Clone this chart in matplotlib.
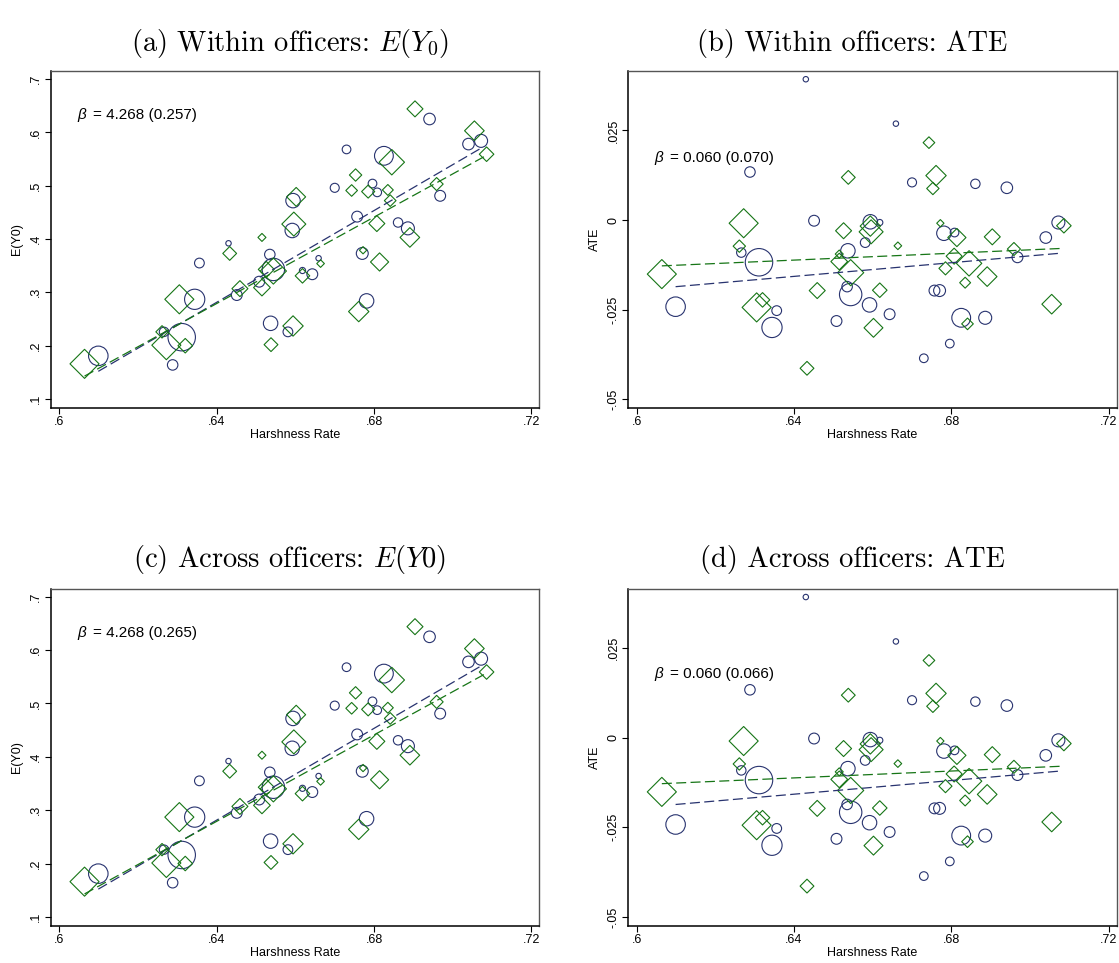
import numpy as np
import matplotlib.pyplot as plt

plt.rcParams['font.family'] = ['Liberation Sans', 'DejaVu Sans']
plt.rcParams['mathtext.fontset'] = 'cm'

NAVY = '#28336f'
GREEN = '#167516'

# officers drawn as circles: harshness rate, E(Y0), ATE, weight
circ_x = [0.6941, 0.7040, 0.7072, 0.6730, 0.6825, 0.6700, 0.6796, 0.6808,
          0.6968, 0.6594, 0.6757, 0.6592, 0.6861, 0.6886, 0.6430, 0.6356,
          0.6535, 0.6770, 0.6659, 0.6544, 0.6618, 0.6643, 0.6508, 0.6451,
          0.6344, 0.6781, 0.6537, 0.6581, 0.6266, 0.6311, 0.6099, 0.6288]
circ_e0 = [0.625, 0.578, 0.584, 0.568, 0.556, 0.496, 0.504, 0.4875,
           0.481, 0.472, 0.442, 0.416, 0.431, 0.420, 0.392, 0.355,
           0.371, 0.373, 0.364, 0.343, 0.341, 0.334, 0.320, 0.295,
           0.287, 0.284, 0.242, 0.226, 0.226, 0.216, 0.181, 0.164]
circ_ate = [0.0090, -0.0049, -0.0007, -0.0386, -0.0273, 0.0105, -0.0345, -0.0035,
            -0.0104, -0.0005, -0.0197, -0.0237, 0.0101, -0.0273, 0.0393, -0.0253,
            -0.0186, -0.0197, 0.0269, -0.0208, -0.0007, -0.0263, -0.0282, -0.0002,
            -0.0300, -0.0037, -0.0086, -0.0063, -0.0091, -0.0118, -0.0242, 0.0134]
circ_w = [16, 16, 18, 12, 26, 12.5, 12, 12,
          15, 20, 15, 20, 13, 18, 7.5, 13.5,
          14.5, 16.5, 7.5, 31, 8.5, 15, 15, 15,
          28, 20, 20, 13.5, 13, 38, 27, 14.5]

# officers drawn as diamonds
diam_x = [0.6904, 0.7055, 0.7086, 0.6845, 0.6753, 0.6743, 0.6785, 0.6835,
          0.6959, 0.6602, 0.6841, 0.6596, 0.6807, 0.6891, 0.6515, 0.6433,
          0.6772, 0.6664, 0.6814, 0.6526, 0.6544, 0.6618, 0.6459, 0.6515,
          0.6305, 0.6761, 0.6594, 0.6538, 0.6261, 0.6272, 0.6320, 0.6064]
diam_e0 = [0.644, 0.603, 0.559, 0.544, 0.520, 0.491, 0.489, 0.492,
           0.503, 0.479, 0.472, 0.428, 0.429, 0.403, 0.403, 0.373,
           0.379, 0.354, 0.357, 0.343, 0.340, 0.331, 0.307, 0.309,
           0.287, 0.264, 0.237, 0.202, 0.226, 0.201, 0.200, 0.166]
diam_ate = [-0.0047, -0.0235, -0.0016, -0.0121, 0.0088, 0.0216, -0.0135, -0.0175,
            -0.0081, -0.0301, -0.0290, -0.0033, -0.0101, -0.0158, -0.0095, -0.0414,
            -0.0009, -0.0072, -0.0049, -0.0030, -0.0147, -0.0196, -0.0197, -0.0116,
            -0.0244, 0.0124, -0.0017, 0.0119, -0.0073, -0.0009, -0.0223, -0.0151]
diam_w = [22, 27, 20, 35, 17, 16, 18, 15,
          18, 26, 16, 33, 22, 27, 11, 19,
          10, 10.5, 25, 22, 36, 20, 22, 23,
          40, 28, 28, 19, 17, 40, 20, 40]

# linear fits (intercept, slope) per marker group
fit_e0_circ = (-2.4706, 4.30)
fit_e0_diam = (-2.3129, 4.05)
fit_ate_circ = (-0.07686, 0.0955)
fit_ate_diam = (-0.04185, 0.0479)

titles = ['(a) Within officers: $E(Y_0)$',
          '(b) Within officers: ATE',
          '(c) Across officers: $E(Y0)$',
          '(d) Across officers: ATE']
betas = ['= 4.268 (0.257)', '= 0.060 (0.070)', '= 4.268 (0.265)', '= 0.060 (0.066)']

xticks = [0.6, 0.64, 0.68, 0.72]
xticklabels = ['.6', '.64', '.68', '.72']
e0_ticks = [0.1, 0.2, 0.3, 0.4, 0.5, 0.6, 0.7]
e0_ticklabels = ['.1', '.2', '.3', '.4', '.5', '.6', '.7']
ate_ticks = [-0.05, -0.025, 0, 0.025]
ate_ticklabels = ['-.05', '-.025', '0', '.025']

W, H = 1119, 963
fig = plt.figure(figsize=(W / 100, H / 100), dpi=100)


def fit_line(ax, xs, coef, color):
    xs = np.array([min(xs), max(xs)])
    ax.plot(xs, coef[0] + coef[1] * xs, color=color, lw=0.9,
            dashes=(8, 3.5), zorder=3)


def panel(rect, y_c, y_d, fit_c, fit_d, ylim, yt, ytl, ylabel, beta, beta_y):
    ax = fig.add_axes(rect)
    cw = np.array(circ_w)
    dw = np.array(diam_w)
    ax.scatter(circ_x, y_c, s=(0.52 * cw) ** 2, marker='o',
               facecolors='none', edgecolors=NAVY, linewidths=0.8, zorder=2)
    ax.scatter(diam_x, y_d, s=(0.37 * dw) ** 2, marker='D',
               facecolors='none', edgecolors=GREEN, linewidths=0.8, zorder=2)
    fit_line(ax, circ_x, fit_c, NAVY)
    fit_line(ax, diam_x, fit_d, GREEN)

    ax.set_xlim(0.5978, 0.7220)
    ax.set_ylim(*ylim)
    ax.set_xticks(xticks)
    ax.set_xticklabels(xticklabels)
    ax.set_yticks(yt)
    ax.set_yticklabels(ytl, rotation=90, va='center')
    ax.tick_params(direction='out', length=4, width=0.8, labelsize=9, pad=2)
    ax.set_xlabel('Harshness Rate', fontsize=9, labelpad=1)
    ax.set_ylabel(ylabel, fontsize=9, labelpad=5)
    for s in ('left', 'bottom'):
        ax.spines[s].set_linewidth(1.1)
        ax.spines[s].set_color('black')
    for s in ('top', 'right'):
        ax.spines[s].set_linewidth(1.0)
        ax.spines[s].set_color('#555555')

    ax.text(0.054, beta_y, '\u03b2', style='italic', fontsize=11,
            transform=ax.transAxes, va='center', ha='left')
    ax.text(0.086, beta_y, beta, fontsize=11,
            transform=ax.transAxes, va='center', ha='left')
    return ax


left_a, left_b = 50.7 / W, 628 / W
width = 488.6 / W
height = 336.7 / H
bottom_top, bottom_bot = (H - 407.7) / H, (H - 925.5) / H

e0_lim = (0.0838, 0.715)
ate_lim = (-0.0524, 0.0416)

panel([left_a, bottom_top, width, height], circ_e0, diam_e0,
      fit_e0_circ, fit_e0_diam, e0_lim, e0_ticks, e0_ticklabels,
      'E(Y0)', betas[0], 0.869)
panel([left_b, bottom_top, width, height], circ_ate, diam_ate,
      fit_ate_circ, fit_ate_diam, ate_lim, ate_ticks, ate_ticklabels,
      'ATE', betas[1], 0.741)
panel([left_a, bottom_bot, width, height], circ_e0, diam_e0,
      fit_e0_circ, fit_e0_diam, e0_lim, e0_ticks, e0_ticklabels,
      'E(Y0)', betas[2], 0.869)
panel([left_b, bottom_bot, width, height], circ_ate, diam_ate,
      fit_ate_circ, fit_ate_diam, ate_lim, ate_ticks, ate_ticklabels,
      'ATE', betas[3], 0.748)

title_pos = [(290, 43), (852, 43), (290, 560), (852, 560)]
for t, (tx, ty) in zip(titles, title_pos):
    fig.text(tx / W, 1 - ty / H, t, fontsize=20.5, family='cmr10',
             ha='center', va='center')

fig.savefig('out.png', dpi=100)
